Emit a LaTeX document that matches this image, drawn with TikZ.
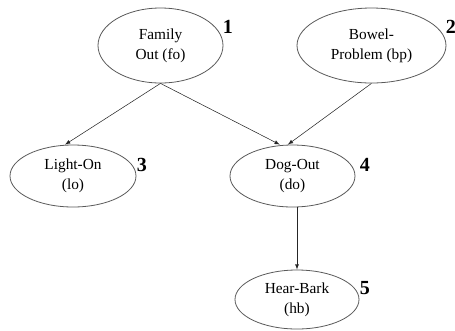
\documentclass[tikz,border=0pt]{standalone}
\usepackage{fontspec}
\setmainfont{Liberation Serif}
\usetikzlibrary{shapes,arrows}
\usetikzlibrary{shapes.geometric}

\tikzset{
  var/.style={ellipse,draw=black!65,line width=0.6pt,inner sep=0,align=center,
    font=\fontsize{11.5}{15}\selectfont},
  num/.style={font=\fontsize{15}{15}\selectfont\bfseries}
}

\begin{document}
\begin{tikzpicture}[x=0.75pt, y=-0.75pt, thin]
  \useasboundingbox (0,0) rectangle (455,330);
  % Nodes
  \draw (160.5,45.5) node(fo) [var,minimum width=93.75pt,minimum height=56.25pt] {Family\\Out (fo)};
  \draw (371.5,45.5) node(bp) [var,minimum width=111.75pt,minimum height=56.25pt] {Bowel-\\Problem (bp)};
  \draw (73,176)     node(lo) [var,minimum width=94.5pt,minimum height=46.5pt] {Light-On\\(lo)};
  \draw (292.5,176)  node(do) [var,minimum width=93.75pt,minimum height=46.5pt] {Dog-Out\\(do)};
  \draw (297,299.5)  node(hb) [var,minimum width=93pt,minimum height=44.25pt] {Hear-Bark\\(hb)};

  % Numbers
  \draw (228,27)  node(n1) [num] {1};
  \draw (451,27)  node(n2) [num] {2};
  \draw (142,165) node(n3) [num] {3};
  \draw (365,165) node(n4) [num] {4};
  \draw (365,288) node(n5) [num] {5};

  % Edges
  \path (fo.south) edge[thin, ->, >=latex, black!85] ([xshift=-6pt]lo.north);
  \path (fo.south) edge[thin, ->, >=latex, black!85] ([xshift=-9.5pt]do.north);
  \path (bp.south) edge[thin, ->, >=latex, black!85] ([xshift=-3.5pt]do.north);
  \path (hb.north |- do.south) edge[thin, ->, >=latex, black!85] (hb.north);

\end{tikzpicture}
\end{document}
